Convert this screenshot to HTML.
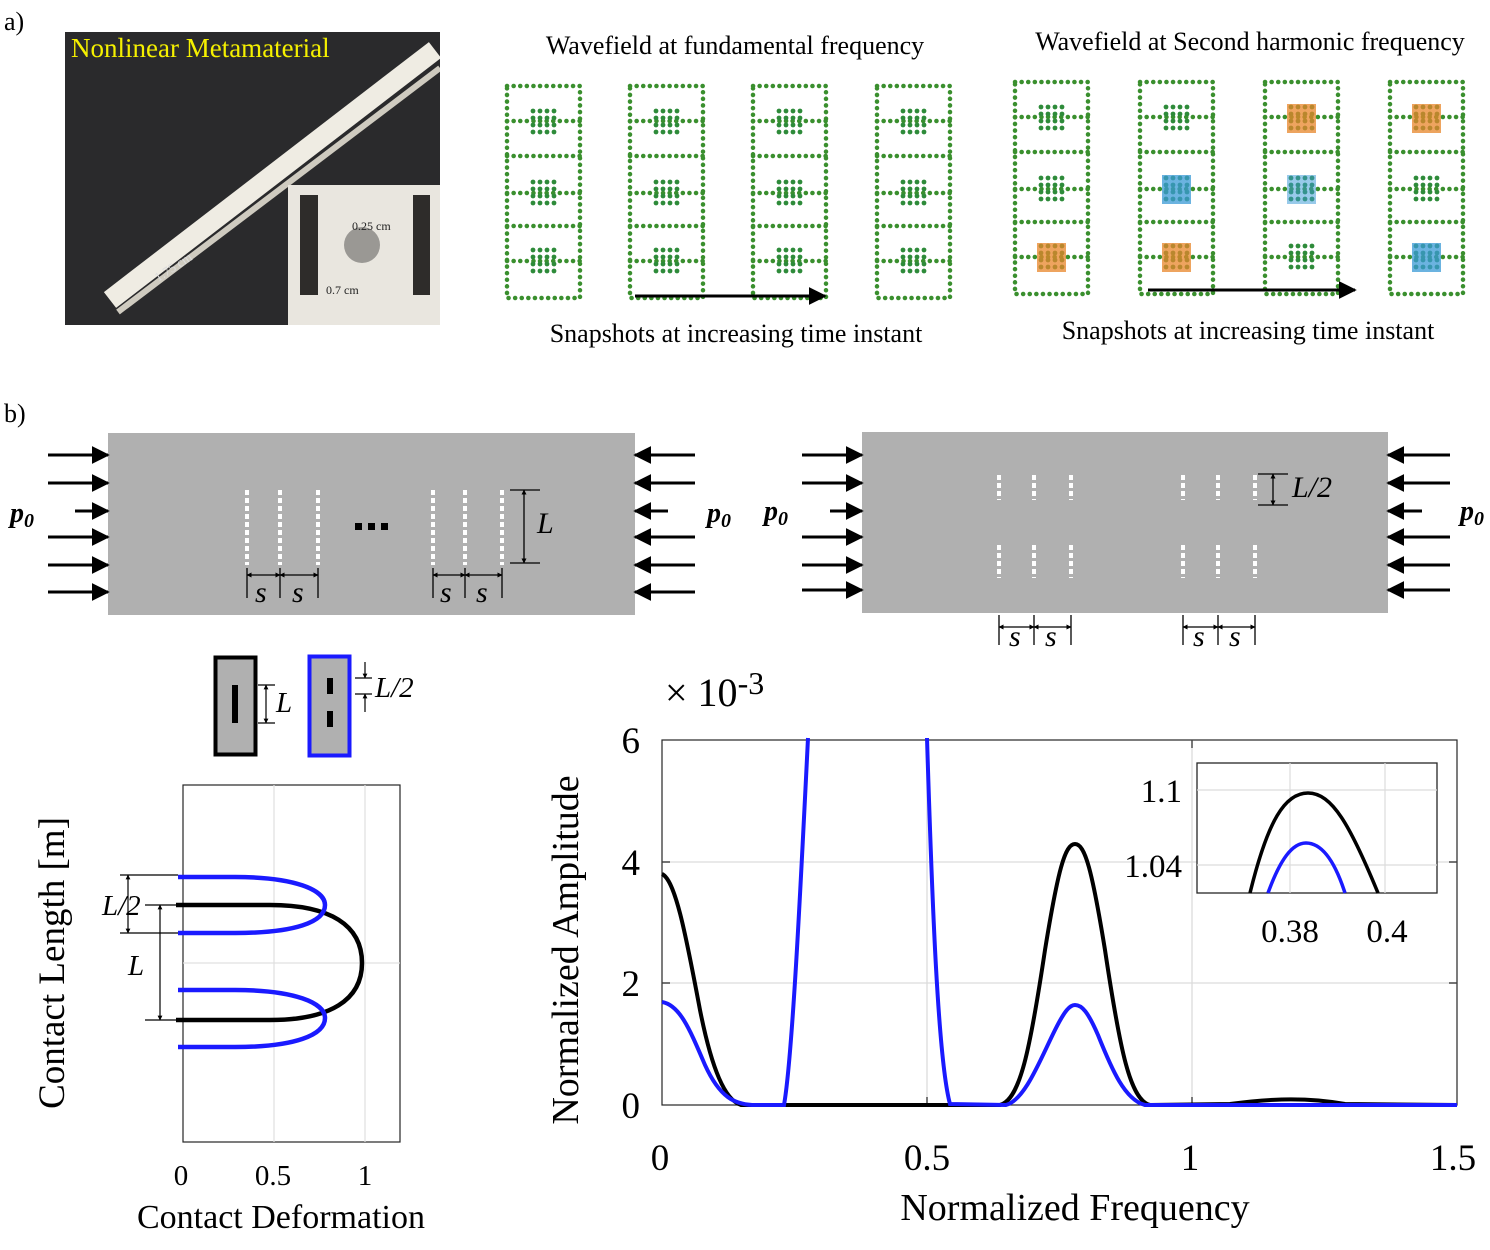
<!DOCTYPE html>
<html><head><meta charset="utf-8"><style>
html,body{margin:0;padding:0;background:#fff;}
svg{display:block;font-family:"Liberation Serif",serif;}
</style></head><body>
<svg width="1490" height="1250" viewBox="0 0 1490 1250" xmlns="http://www.w3.org/2000/svg">
<defs>
<marker id="ah" viewBox="0 0 10 10" refX="9" refY="5" markerWidth="6" markerHeight="6" orient="auto-start-reverse"><path d="M0,0 L10,5 L0,10 z" fill="#000"/></marker>
<marker id="as" viewBox="0 0 10 10" refX="9" refY="5" markerWidth="4" markerHeight="4" orient="auto-start-reverse"><path d="M0,0 L10,5 L0,10 z" fill="#000"/></marker>
<clipPath id="ph"><rect x="65" y="32" width="375" height="293"/></clipPath>
<g id="cl">
<g fill="#2e8b3a">
<circle cx="3" cy="3" r="2.4"/><circle cx="10" cy="3" r="2.4"/><circle cx="17" cy="3" r="2.4"/><circle cx="24" cy="3" r="2.4"/>
<circle cx="3" cy="10" r="2.4"/><circle cx="10" cy="10" r="2.4"/><circle cx="17" cy="10" r="2.4"/><circle cx="24" cy="10" r="2.4"/>
<circle cx="3" cy="17" r="2.4"/><circle cx="10" cy="17" r="2.4"/><circle cx="17" cy="17" r="2.4"/><circle cx="24" cy="17" r="2.4"/>
<circle cx="3" cy="24" r="2.4"/><circle cx="10" cy="24" r="2.4"/><circle cx="17" cy="24" r="2.4"/><circle cx="24" cy="24" r="2.4"/>
</g></g>
<g id="col">
<rect x="0" y="0" width="73" height="212" fill="none" stroke="#3a8f2e" stroke-width="4.5" stroke-dasharray="0.1 6.5" stroke-linecap="round"/>
<path d="M0,70 H73 M0,140 H73 M0,35 H73 M0,107 H73 M0,175 H73" stroke="#3a8f2e" stroke-width="4.5" stroke-dasharray="0.1 6.5" stroke-linecap="round"/>
<use href="#cl" x="23" y="22"/>
<use href="#cl" x="23" y="93"/>
<use href="#cl" x="23" y="161"/>
</g>
</defs>

<!-- a) -->
<text x="4" y="30" font-size="26">a)</text>
<rect x="65" y="32" width="375" height="293" fill="#2a2a2c"/>
<g clip-path="url(#ph)">
<path d="M110,300 L435,50" stroke="#efece3" stroke-width="20"/>
<path d="M118,312 L440,68" stroke="#cfcbc0" stroke-width="6"/>
</g>
<rect x="288" y="185" width="152" height="140" fill="#e9e6df"/>
<rect x="300" y="195" width="18" height="100" fill="#2e2c2a"/>
<rect x="413" y="195" width="17" height="100" fill="#2e2c2a"/>
<circle cx="362" cy="245" r="18" fill="#9a9894"/>
<text x="352" y="230" font-size="12" fill="#222">0.25 cm</text>
<text x="326" y="294" font-size="12" fill="#222">0.7 cm</text>
<text x="158" y="282" font-size="13" fill="#ddd" transform="rotate(-33 158 282)">1.75 cm</text>
<text x="71" y="57" font-size="27" fill="#f5f000">Nonlinear  Metamaterial</text>

<text x="735" y="54" font-size="26" text-anchor="middle">Wavefield at fundamental frequency</text>
<text x="1250" y="50" font-size="26" text-anchor="middle">Wavefield at Second harmonic frequency</text>
<use href="#col" x="507" y="86"/>
<use href="#col" x="630" y="86"/>
<use href="#col" x="753" y="86"/>
<use href="#col" x="877" y="86"/>
<use href="#col" x="1015" y="82"/>
<use href="#col" x="1140" y="82"/>
<use href="#col" x="1265" y="82"/>
<use href="#col" x="1390" y="82"/>
<g opacity="0.75">
<rect x="1037" y="243" width="29" height="29" fill="#e8862a"/>
<rect x="1162" y="243" width="29" height="29" fill="#e8862a"/>
<rect x="1287" y="104" width="29" height="29" fill="#e8862a"/>
<rect x="1412" y="104" width="29" height="29" fill="#e8862a"/>
<rect x="1162" y="175" width="29" height="29" fill="#3a9ad6"/>
<rect x="1287" y="175" width="29" height="29" fill="#3a9ad6" opacity="0.7"/>
<rect x="1412" y="243" width="29" height="29" fill="#3a9ad6"/>
</g>
<line x1="635" y1="296" x2="825" y2="296" stroke="#000" stroke-width="3" marker-end="url(#ah)"/>
<line x1="1148" y1="290" x2="1355" y2="290" stroke="#000" stroke-width="3" marker-end="url(#ah)"/>
<text x="736" y="342" font-size="26" text-anchor="middle">Snapshots at increasing time instant</text>
<text x="1248" y="339" font-size="26" text-anchor="middle">Snapshots at increasing time instant</text>

<!-- b) -->
<text x="4" y="422" font-size="26">b)</text>
<rect x="108" y="433" width="527" height="182" fill="#b0b0b0"/>
<rect x="862" y="432" width="526" height="181" fill="#b0b0b0"/>
<g stroke="#000" stroke-width="3" marker-end="url(#ah)">
<line x1="48" y1="455" x2="108" y2="455"/><line x1="48" y1="483" x2="108" y2="483"/><line x1="48" y1="537" x2="108" y2="537"/><line x1="48" y1="565" x2="108" y2="565"/><line x1="48" y1="592" x2="108" y2="592"/><line x1="75" y1="511" x2="108" y2="511"/>
<line x1="695" y1="455" x2="635" y2="455"/><line x1="695" y1="483" x2="635" y2="483"/><line x1="695" y1="537" x2="635" y2="537"/><line x1="695" y1="565" x2="635" y2="565"/><line x1="695" y1="592" x2="635" y2="592"/><line x1="668" y1="511" x2="635" y2="511"/>
<line x1="802" y1="455" x2="862" y2="455"/><line x1="802" y1="483" x2="862" y2="483"/><line x1="802" y1="537" x2="862" y2="537"/><line x1="802" y1="565" x2="862" y2="565"/><line x1="802" y1="590" x2="862" y2="590"/><line x1="830" y1="511" x2="862" y2="511"/>
<line x1="1450" y1="455" x2="1388" y2="455"/><line x1="1450" y1="483" x2="1388" y2="483"/><line x1="1450" y1="537" x2="1388" y2="537"/><line x1="1450" y1="565" x2="1388" y2="565"/><line x1="1450" y1="590" x2="1388" y2="590"/><line x1="1422" y1="511" x2="1388" y2="511"/>
</g>
<text x="10" y="522" font-size="28" font-weight="bold" font-style="italic">p<tspan font-size="20" dy="5">0</tspan></text>
<text x="707" y="522" font-size="28" font-weight="bold" font-style="italic">p<tspan font-size="20" dy="5">0</tspan></text>
<text x="764" y="520" font-size="28" font-weight="bold" font-style="italic">p<tspan font-size="20" dy="5">0</tspan></text>
<text x="1460" y="520" font-size="28" font-weight="bold" font-style="italic">p<tspan font-size="20" dy="5">0</tspan></text>
<g stroke="#fff" stroke-width="4" stroke-dasharray="5 3">
<line x1="247" y1="490" x2="247" y2="565"/><line x1="280" y1="490" x2="280" y2="565"/><line x1="318" y1="490" x2="318" y2="565"/>
<line x1="433" y1="490" x2="433" y2="565"/><line x1="465" y1="490" x2="465" y2="565"/><line x1="502" y1="490" x2="502" y2="565"/>
<line x1="999" y1="475" x2="999" y2="500"/><line x1="1034" y1="475" x2="1034" y2="500"/><line x1="1071" y1="475" x2="1071" y2="500"/>
<line x1="999" y1="545" x2="999" y2="578"/><line x1="1034" y1="545" x2="1034" y2="578"/><line x1="1071" y1="545" x2="1071" y2="578"/>
<line x1="1183" y1="475" x2="1183" y2="500"/><line x1="1218" y1="475" x2="1218" y2="500"/><line x1="1255" y1="475" x2="1255" y2="500"/>
<line x1="1183" y1="545" x2="1183" y2="578"/><line x1="1218" y1="545" x2="1218" y2="578"/><line x1="1255" y1="545" x2="1255" y2="578"/>
</g>
<rect x="355" y="523" width="7" height="7"/><rect x="368" y="523" width="7" height="7"/><rect x="381" y="523" width="7" height="7"/>
<g stroke="#000" stroke-width="1.3">
<line x1="510" y1="490" x2="540" y2="490"/><line x1="510" y1="563" x2="540" y2="563"/>
<line x1="524" y1="490" x2="524" y2="563" marker-start="url(#as)" marker-end="url(#as)"/>
<line x1="1258" y1="474" x2="1288" y2="474"/><line x1="1258" y1="505" x2="1288" y2="505"/>
<line x1="1273" y1="474" x2="1273" y2="505" marker-start="url(#as)" marker-end="url(#as)"/>
<path d="M247,568V598 M280,568V598 M318,568V598 M433,568V598 M465,568V598 M502,568V598"/>
<line x1="247" y1="575" x2="280" y2="575" marker-start="url(#as)" marker-end="url(#as)"/>
<line x1="280" y1="575" x2="318" y2="575" marker-start="url(#as)" marker-end="url(#as)"/>
<line x1="433" y1="575" x2="465" y2="575" marker-start="url(#as)" marker-end="url(#as)"/>
<line x1="465" y1="575" x2="502" y2="575" marker-start="url(#as)" marker-end="url(#as)"/>
<path d="M999,615V645 M1034,615V645 M1071,615V645 M1183,615V645 M1218,615V645 M1255,615V645"/>
<line x1="999" y1="627" x2="1034" y2="627" marker-start="url(#as)" marker-end="url(#as)"/>
<line x1="1034" y1="627" x2="1071" y2="627" marker-start="url(#as)" marker-end="url(#as)"/>
<line x1="1183" y1="627" x2="1218" y2="627" marker-start="url(#as)" marker-end="url(#as)"/>
<line x1="1218" y1="627" x2="1255" y2="627" marker-start="url(#as)" marker-end="url(#as)"/>
</g>
<g font-size="30" font-style="italic">
<text x="537" y="533">L</text><text x="1292" y="497">L/2</text>
<text x="255" y="602">s</text><text x="292" y="602">s</text><text x="440" y="602">s</text><text x="476" y="602">s</text>
<text x="1009" y="646">s</text><text x="1045" y="646">s</text><text x="1193" y="646">s</text><text x="1229" y="646">s</text>
</g>

<!-- small boxes -->
<rect x="215.5" y="657.5" width="40" height="97" fill="#b0b0b0" stroke="#000" stroke-width="4"/>
<rect x="232" y="685" width="6" height="38" fill="#000"/>
<rect x="309.5" y="656.5" width="40" height="99" fill="#b0b0b0" stroke="#1a1aff" stroke-width="4"/>
<rect x="327" y="678" width="6" height="16" fill="#000"/><rect x="327" y="711" width="6" height="16" fill="#000"/>
<g stroke="#000" stroke-width="1.2">
<line x1="258" y1="685" x2="275" y2="685"/><line x1="258" y1="723" x2="275" y2="723"/>
<line x1="266" y1="685" x2="266" y2="723" marker-start="url(#as)" marker-end="url(#as)"/>
<line x1="355" y1="678" x2="372" y2="678"/><line x1="355" y1="694" x2="372" y2="694"/>
<line x1="365" y1="662" x2="365" y2="678" marker-end="url(#as)"/><line x1="365" y1="712" x2="365" y2="694" marker-end="url(#as)"/>
</g>
<text x="276" y="712" font-size="29" font-style="italic">L</text>
<text x="375" y="697" font-size="29" font-style="italic">L/2</text>

<!-- left chart -->
<rect x="183" y="785" width="217" height="357" fill="#fff" stroke="#262626" stroke-width="1.2"/>
<g stroke="#e0e0e0" stroke-width="1.2"><line x1="274" y1="785" x2="274" y2="1142"/><line x1="365" y1="785" x2="365" y2="1142"/><line x1="183" y1="963" x2="400" y2="963"/></g>
<path d="M176,905 L270,905 C330,905 362,925 362,963 C362,1000 330,1020 270,1020 L176,1020" fill="none" stroke="#000" stroke-width="4.5"/>
<path d="M178,877 L235,877 C295,877 325,890 325,905 C325,922 295,933 235,933 L178,933" fill="none" stroke="#1a1aff" stroke-width="4.5"/>
<path d="M178,990 L235,990 C295,990 325,1003 325,1018 C325,1035 295,1047 235,1047 L178,1047" fill="none" stroke="#1a1aff" stroke-width="4.5"/>
<g stroke="#000" stroke-width="1.2">
<line x1="120" y1="875" x2="178" y2="875"/><line x1="120" y1="933" x2="178" y2="933"/>
<line x1="128" y1="875" x2="128" y2="933" marker-start="url(#as)" marker-end="url(#as)"/>
<line x1="145" y1="905" x2="178" y2="905"/><line x1="145" y1="1020" x2="178" y2="1020"/>
<line x1="160" y1="905" x2="160" y2="1020" marker-start="url(#as)" marker-end="url(#as)"/>
</g>
<text x="102" y="915" font-size="29" font-style="italic">L/2</text>
<text x="128" y="975" font-size="29" font-style="italic">L</text>
<g font-size="29" text-anchor="middle"><text x="181" y="1185">0</text><text x="273" y="1185">0.5</text><text x="365" y="1185">1</text></g>
<text x="281" y="1228" font-size="34" text-anchor="middle">Contact Deformation</text>
<text x="0" y="0" font-size="37" text-anchor="middle" transform="translate(64,963) rotate(-90)">Contact Length [m]</text>

<!-- right chart -->
<rect x="662" y="740" width="795" height="365" fill="#fff" stroke="#262626" stroke-width="1.2"/>
<g stroke="#dcdcdc" stroke-width="1.3">
<line x1="927" y1="740" x2="927" y2="1105"/><line x1="1192" y1="740" x2="1192" y2="1105"/>
<line x1="662" y1="983" x2="1457" y2="983"/><line x1="662" y1="862" x2="1457" y2="862"/>
</g>
<g stroke="#262626" stroke-width="1.2">
<path d="M927,1105v-8 M1192,1105v-8 M927,740v8 M1192,740v8 M662,983h8 M662,862h8 M1457,983h-8 M1457,862h-8"/>
</g>
<path d="M662,874 C675,880 685,930 700,1010 C712,1070 725,1100 741,1105 L1000,1105 C1020,1100 1030,1050 1045,950 C1058,870 1065,844 1075,844 C1085,844 1092,870 1105,950 C1120,1050 1130,1100 1150,1105 L1230,1104 C1260,1100 1300,1096 1345,1104 L1457,1105" fill="none" stroke="#000" stroke-width="4"/>
<path d="M662,1002 C680,1005 690,1030 705,1065 C720,1098 735,1104 752,1105 L784,1105 C792,1060 800,900 808,738 M927,738 C932,900 938,1060 950,1104 L1006,1105 C1025,1100 1040,1060 1055,1030 C1065,1010 1070,1005 1075,1005 C1082,1005 1088,1012 1098,1035 C1112,1070 1125,1100 1145,1105 L1457,1105" fill="none" stroke="#1a1aff" stroke-width="4"/>
<g font-size="37" text-anchor="middle"><text x="660" y="1170">0</text><text x="927" y="1170">0.5</text><text x="1190" y="1170">1</text><text x="1453" y="1170">1.5</text></g>
<g font-size="37" text-anchor="end"><text x="640" y="1118">0</text><text x="640" y="996">2</text><text x="640" y="875">4</text><text x="640" y="753">6</text></g>
<text x="665" y="706" font-size="40">× 10<tspan font-size="32" dy="-12">-3</tspan></text>
<text x="1075" y="1220" font-size="38" text-anchor="middle">Normalized Frequency</text>
<text x="0" y="0" font-size="38" text-anchor="middle" transform="translate(578,950) rotate(-90)">Normalized Amplitude</text>

<!-- inset -->
<rect x="1197" y="763" width="240" height="130" fill="#fff" stroke="#262626" stroke-width="1.3"/>
<g stroke="#dcdcdc" stroke-width="1.2"><line x1="1290" y1="763" x2="1290" y2="893"/><line x1="1385" y1="763" x2="1385" y2="893"/><line x1="1197" y1="790" x2="1437" y2="790"/><line x1="1197" y1="865" x2="1437" y2="865"/></g>
<path d="M1250,893 C1268,820 1285,793 1308,793 C1332,793 1350,825 1378,893" fill="none" stroke="#000" stroke-width="3.5"/>
<path d="M1268,893 C1280,860 1292,843 1306,843 C1322,843 1335,862 1345,893" fill="none" stroke="#1a1aff" stroke-width="3.5"/>
<g font-size="33" text-anchor="end"><text x="1182" y="802">1.1</text><text x="1182" y="877">1.04</text></g>
<g font-size="33" text-anchor="middle"><text x="1290" y="942">0.38</text><text x="1387" y="942">0.4</text></g>
</svg>
</body></html>
